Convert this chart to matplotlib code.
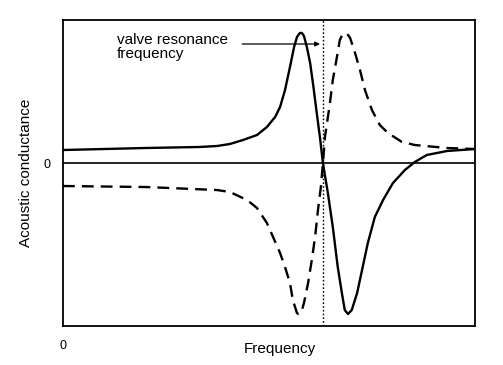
import matplotlib
matplotlib.use("Agg")
import matplotlib.pyplot as plt

# frequency (arbitrary units, 0..10) and acoustic conductance (arbitrary units)
freq_solid = [0.0, 2.0, 3.3, 3.74, 4.05, 4.37, 4.71, 4.95, 5.15, 5.27, 5.39, 5.51, 5.61,
              5.68, 5.75, 5.80, 5.85, 5.92, 6.00, 6.08, 6.16, 6.24, 6.31, 6.43, 6.55, 6.67,
              6.77, 6.84, 6.92, 7.01, 7.14, 7.26, 7.40, 7.57, 7.77, 8.01, 8.30, 8.54,
              8.83, 9.32, 10.0]
cond_solid = [0.13, 0.15, 0.16, 0.17, 0.19, 0.23, 0.28, 0.36, 0.46, 0.56, 0.73, 0.96, 1.16,
              1.26, 1.30, 1.30, 1.27, 1.16, 1.00, 0.76, 0.50, 0.25, 0.0, -0.30, -0.64, -1.04,
              -1.30, -1.47, -1.51, -1.47, -1.30, -1.07, -0.80, -0.54, -0.37, -0.20, -0.07, 0.01,
              0.08, 0.12, 0.14]

freq_dashed = [0.0, 2.0, 3.74, 4.05, 4.47, 4.71, 4.95, 5.10, 5.27, 5.39, 5.51, 5.58,
               5.68, 5.72, 5.78, 5.85, 5.95, 6.04, 6.12, 6.19, 6.26, 6.31, 6.36, 6.48, 6.55,
               6.65, 6.72, 6.79, 6.86, 6.92, 6.97, 7.09, 7.21, 7.33, 7.50, 7.69, 7.89, 8.23, 8.54,
               9.32, 10.0]
cond_dashed = [-0.23, -0.24, -0.27, -0.29, -0.37, -0.45, -0.60, -0.74, -0.90, -1.04, -1.20, -1.37,
               -1.50, -1.51, -1.50, -1.40, -1.20, -0.97, -0.74, -0.47, -0.24, 0.0, 0.26, 0.60, 0.83,
               1.06, 1.23, 1.29, 1.30, 1.28, 1.25, 1.10, 0.93, 0.73, 0.53, 0.38, 0.30, 0.21, 0.18,
               0.15, 0.14]

resonance_freq = 6.31

plt.rcParams['font.family'] = ['Liberation Sans', 'DejaVu Sans']

fig = plt.figure(figsize=(5.03, 3.65), dpi=100)
ax = fig.add_axes([0.1252, 0.1068, 0.819, 0.8384])

ax.axhline(0, color='black', lw=1.2)
ax.axvline(resonance_freq, color='black', lw=1.0, ls=(0, (1.2, 1.5)))
ax.plot(freq_solid, cond_solid, color='black', lw=1.7, solid_joinstyle='round')
ax.plot(freq_dashed, cond_dashed, color='black', lw=1.7, ls=(0, (5, 3)))

# annotation for the resonance line
ax.text(1.3, 1.16, 'valve resonance\nfrequency', ha='left', va='center',
        fontsize=11, linespacing=0.95)
ax.annotate('', xy=(resonance_freq - 0.07, 1.19), xytext=(4.35, 1.19),
            arrowprops=dict(arrowstyle='-|>', color='black', lw=0.9,
                            mutation_scale=7, shrinkA=0, shrinkB=0))

ax.set_xlim(0, 10)
ax.set_ylim(-1.63, 1.43)
ax.set_xticks([0])
ax.set_yticks([0])
ax.tick_params(length=0, labelsize=9)
ax.tick_params(axis='x', pad=10)
ax.tick_params(axis='y', pad=9)
for s in ax.spines.values():
    s.set_linewidth(1.3)

ax.set_xlabel('Frequency', fontsize=11)
ax.xaxis.set_label_coords(0.527, -0.052)
ax.set_ylabel('Acoustic conductance', fontsize=11)
ax.yaxis.set_label_coords(-0.073, 0.5)

fig.savefig('out.png', dpi=100)
